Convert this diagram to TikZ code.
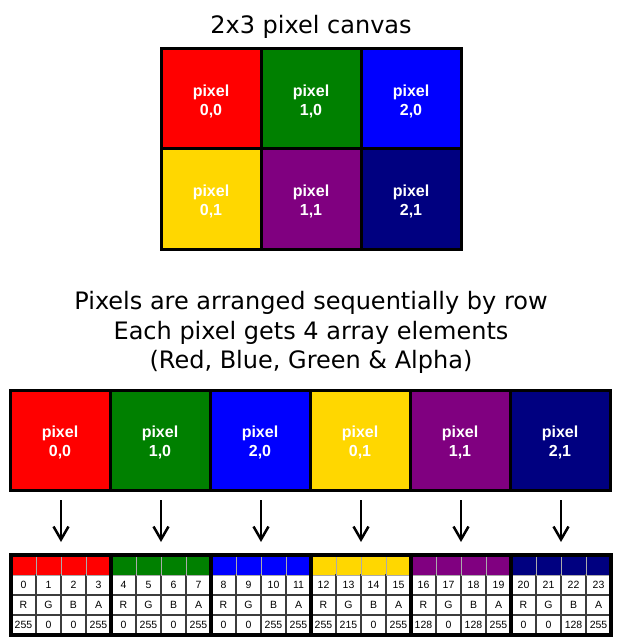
\documentclass[tikz,border=0pt]{standalone}
\usepackage{fontspec}
\setmainfont{DejaVu Sans}
\newfontfamily\labelfont{Liberation Sans}
\usetikzlibrary{arrows.meta}
\definecolor{pred}{RGB}{255,0,0}
\definecolor{pgreen}{RGB}{0,128,0}
\definecolor{pblue}{RGB}{0,0,255}
\definecolor{pgold}{RGB}{255,215,0}
\definecolor{ppurple}{RGB}{128,0,128}
\definecolor{pnavy}{RGB}{0,0,128}
\definecolor{gridgray}{RGB}{60,60,60}
\definecolor{lightgrid}{RGB}{170,170,170}
\tikzset{
  pixbox/.style={draw=black, line width=3pt, minimum width=100pt, minimum height=100pt,
    inner sep=0pt},
  pixlab/.style={text=white, align=center, yshift=-2.5pt, inner sep=0pt,
    font=\labelfont\bfseries\fontsize{16}{19.5}\selectfont},
  headtext/.style={font=\fontsize{24}{28}\selectfont, anchor=base},
  bodytext/.style={font=\fontsize{24}{28}\selectfont, anchor=base},
  cellbox/.style={draw=gridgray, line width=1.6pt, fill=white, minimum width=25pt,
    minimum height=20pt, inner sep=0pt, font=\labelfont\fontsize{10.5}{12}\selectfont},
  colorcell/.style={draw=lightgrid, line width=1pt, minimum width=25pt,
    minimum height=20pt, inner sep=0pt},
  groupbox/.style={draw=black, line width=4pt, minimum width=100pt, minimum height=80pt,
    inner sep=0pt},
  downarrow/.style={line width=2.5pt, -{Straight Barb[length=13pt,width=15pt,line width=2.5pt]}}
}
\begin{document}
\begin{tikzpicture}[x=1pt,y=-1pt]
\useasboundingbox (0,0) rectangle (622,644);
% title
\node[headtext] (title) at (311,34) {2x3 pixel canvas};
% canvas grid
\node[pixbox, fill=pred,    label={[pixlab]center:{pixel\\0,0}}] (c00) at (211,99)  {};
\node[pixbox, fill=pgreen,  label={[pixlab]center:{pixel\\1,0}}] (c10) at (311,99)  {};
\node[pixbox, fill=pblue,   label={[pixlab]center:{pixel\\2,0}}] (c20) at (411,99)  {};
\node[pixbox, fill=pgold,   label={[pixlab]center:{pixel\\0,1}}] (c01) at (211,199) {};
\node[pixbox, fill=ppurple, label={[pixlab]center:{pixel\\1,1}}] (c11) at (311,199) {};
\node[pixbox, fill=pnavy,   label={[pixlab]center:{pixel\\2,1}}] (c21) at (411,199) {};
% explanation
\node[bodytext] (t1) at (311,309) {Pixels are arranged sequentially by row};
\node[bodytext] (t2) at (311,339) {Each pixel gets 4 array elements};
\node[bodytext] (t3) at (311,368) {(Red, Blue, Green \& Alpha)};
% sequential row
\foreach \col/\lab [count=\g from 0] in {pred/{0,0}, pgreen/{1,0}, pblue/{2,0}, pgold/{0,1}, ppurple/{1,1}, pnavy/{2,1}} {
  \node[pixbox, fill=\col, label={[pixlab]center:{pixel\\\lab}}] (box\g) at ({60+100*\g},440) {};
}
% table
\foreach \col/\vals [count=\g from 0] in {pred/{255,0,0,255}, pgreen/{0,255,0,255}, pblue/{0,0,255,255}, pgold/{255,215,0,255}, ppurple/{128,0,128,255}, pnavy/{0,0,128,255}} {
  \foreach \v [count=\k from 0] in \vals {
    \pgfmathtruncatemacro{\n}{4*\g+\k}
    \pgfmathsetmacro{\xc}{23.5+100*\g+25*\k}
    \node[cellbox] (idx\n) at (\xc,585) {\n};
    \node[cellbox] (ch\n)  at (\xc,605) {\ifcase\k R\or G\or B\or A\fi};
    \node[cellbox] (val\n) at (\xc,625) {\v};
    \node[colorcell, fill=\col] (col\n) at (\xc,565) {};
  }
}
\foreach \g in {0,...,5} {
  \node[groupbox] (grp\g) at ({61+100*\g},595) {};
  \coordinate (as\g) at ({61+100*\g},500);
  \coordinate (ae\g) at ({61+100*\g},542);
  \draw[downarrow] (as\g) -- (ae\g);
}
\end{tikzpicture}
\end{document}
